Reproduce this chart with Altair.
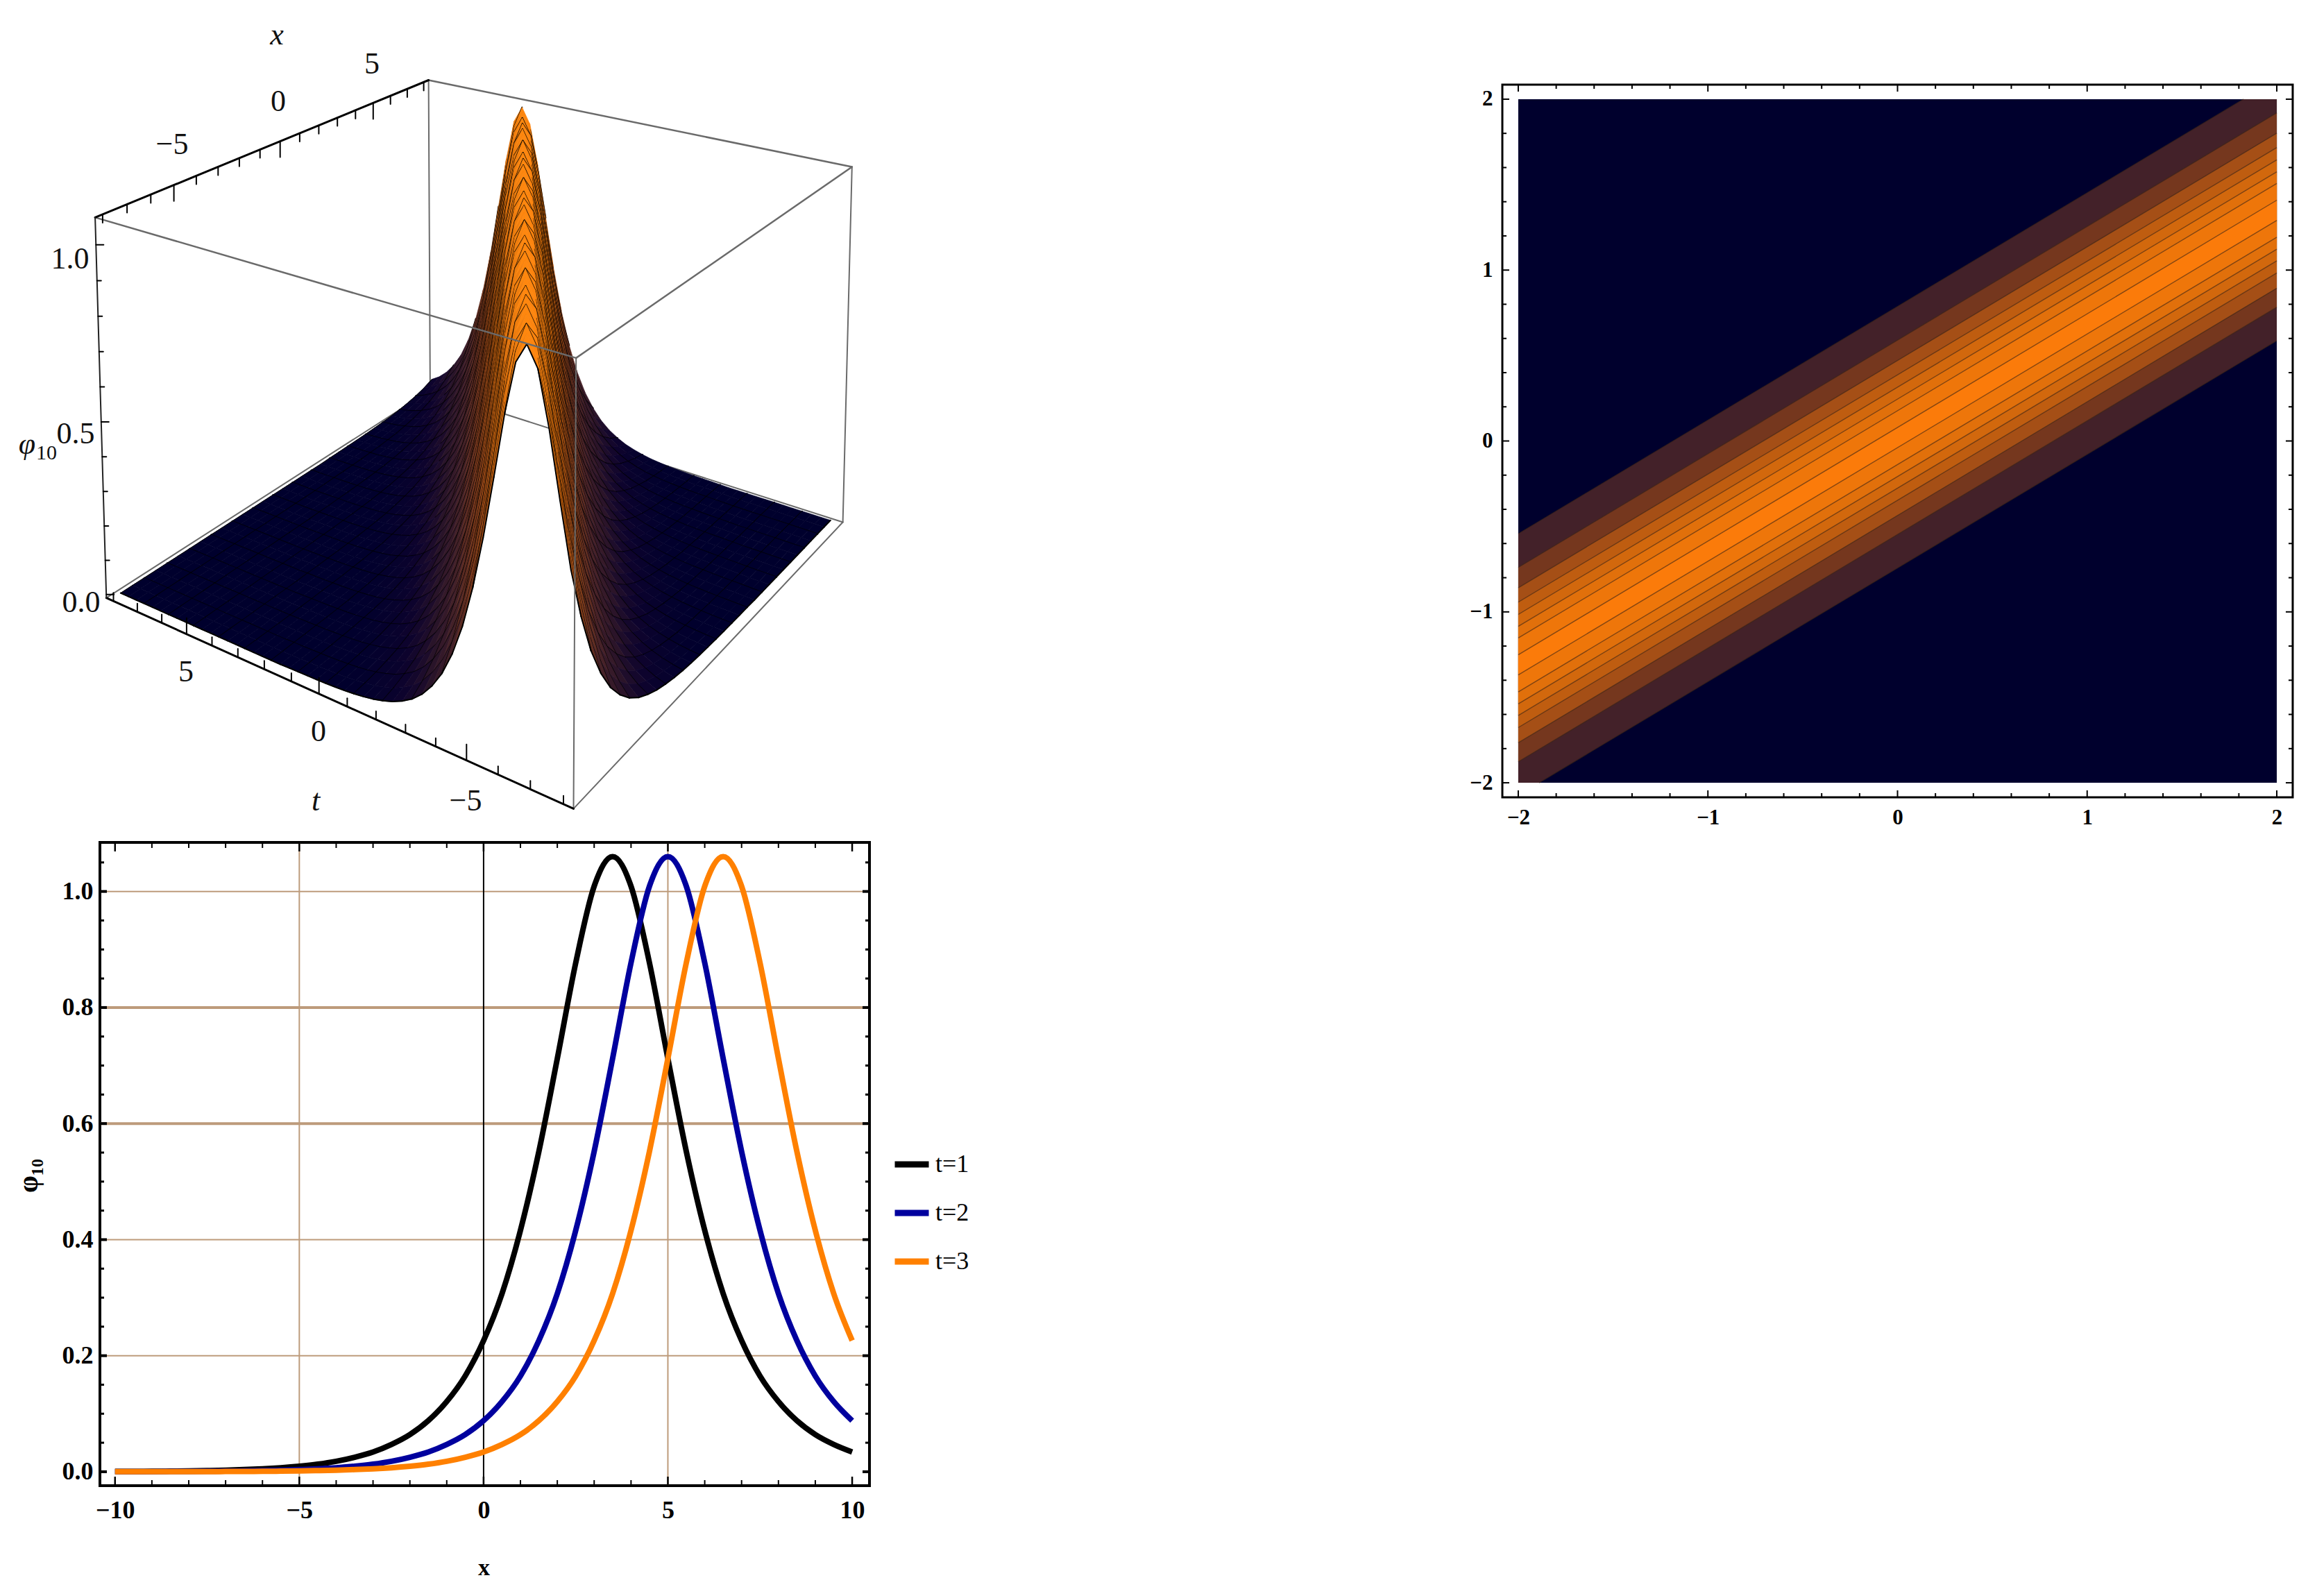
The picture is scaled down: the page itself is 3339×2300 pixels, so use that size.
import numpy as np
import pandas as pd
import altair as alt

SERIF = "Liberation Serif"

# ---------- curve values (x = -10 ... 10, step 0.5)
XS = [-10 + 0.5 * i for i in range(41)]
T1 = [.0004,.0005,.0008,.001,.0014,.002,.0027,.0037,.005,.0069,.0095,.013,.018,.025,.034,.047,.064,.088,.121,.165,.226,.307,.416,.552,.712,.877,1.009,1.06,1.009,.877,.712,.552,.416,.307,.226,.165,.121,.088,.064,.047,.034]
T2 = [.0002,.0003,.0003,.0004,.0005,.0008,.001,.0014,.002,.0027,.0037,.005,.0069,.0095,.013,.018,.025,.034,.047,.064,.088,.121,.165,.226,.307,.416,.552,.712,.877,1.009,1.06,1.009,.877,.712,.552,.416,.307,.226,.165,.121,.088]
T3 = [.0001,.0001,.0002,.0002,.0003,.0003,.0004,.0005,.0008,.001,.0014,.002,.0027,.0037,.005,.0069,.0095,.013,.018,.025,.034,.047,.064,.088,.121,.165,.226,.307,.416,.552,.712,.877,1.009,1.06,1.009,.877,.712,.552,.416,.307,.226]
SERIES = ["t=1", "t=2", "t=3"]
SERIES_COLORS = ["#000000", "#00009e", "#ff8000"]

# ridge cross-section, |u| = 0, 0.5, 1, ...
PROFILE = [1.06,1.009,.877,.712,.552,.416,.307,.226,.165,.121,.088,.064,.047,.034,.025,.018,.013,.0095,.0069,.005,.0037,.0027,.002,.0014,.001]

# ---------- contour band edges at x = -2 (the edges run up with the ridge)
UPPER = [-.543,-.740,-.859,-.943,-1.015,-1.085,-1.153,-1.251]
LOWER = [-2.073,-1.877,-1.766,-1.677,-1.606,-1.538,-1.468,-1.369]
RISE = 2.66
BAND_COLORS = ["#432129","#75371e","#a54f16","#bf5d10","#d2680d","#e1700b","#ee760a","#fb7b0a"]
NAVY = "#00002d"

# ---------- 3D box: page pixels of its corners
OX, OY = 143, 121
BOX = 8.3
ZLO, ZHI = -0.01, 1.076
CORNERS = {
    (-1, 1, 1): (137, 312), (1, 1, 1): (615, 115), (1, -1, 1): (1228, 240), (-1, -1, 1): (829, 514),
    (-1, 1, 0): (152, 862), (1, 1, 0): (620, 560), (1, -1, 0): (1213, 752), (-1, -1, 0): (825, 1164),
}
A, B = [], []
for (a, b, c), (u, v) in CORNERS.items():
    c = -1 if c == 0 else 1
    A.append([a, b, c, 1, 0, 0, 0, 0, -u * a, -u * b, -u * c]); B.append(u)
    A.append([0, 0, 0, 0, a, b, c, 1, -v * a, -v * b, -v * c]); B.append(v)
P = np.linalg.lstsq(np.array(A, float), np.array(B, float), rcond=None)[0]


def proj(x, t, z):
    a, b = x / BOX, t / BOX
    c = (z - ZLO) / (ZHI - ZLO) * 2 - 1
    w = P[8] * a + P[9] * b + P[10] * c + 1
    return [(P[0] * a + P[1] * b + P[2] * c + P[3]) / w - OX, (P[4] * a + P[5] * b + P[6] * c + P[7]) / w - OY]


def rnd(p):
    return [round(float(p[0]), 1), round(float(p[1]), 1)]


def feat(coords, fill, stroke, sw, poly=False):
    geom = {"type": "Polygon", "coordinates": [[rnd(c) for c in coords]]} if poly else {"type": "LineString", "coordinates": [rnd(c) for c in coords]}
    return {"type": "Feature", "geometry": geom, "properties": {"f": fill, "s": stroke, "w": sw}}


def edge(a, b, color, sw):
    return feat([proj(*a), proj(*b)], "none", color, sw)


RAMP_Z = [0, .05, .12, .22, .38, .55, .75, 1.06]
RAMP_R = [0, 14, 42, 67, 117, 165, 215, 255]
RAMP_G = [0, 4, 20, 33, 55, 79, 108, 136]
RAMP_B = [45, 45, 42, 41, 30, 22, 13, 16]


def col(z, light=1.0):
    r = np.interp(z, RAMP_Z, RAMP_R) * light
    g = np.interp(z, RAMP_Z, RAMP_G) * light
    b = np.interp(z, RAMP_Z, RAMP_B)
    return "#%02x%02x%02x" % (int(min(r, 255)), int(min(g, 255)), int(b))


def height(i, j):
    k = abs(i - j + 4)   # u / 0.5 on the lattice x = -8 + i/2, t = -8 + j/3
    return PROFILE[k] if k < len(PROFILE) else 0.0


GR = "#6a6a6a"
nx, nt = 33, 49
xv = [-8 + i / 2 for i in range(nx)]
tv = [-8 + j / 3 for j in range(nt)]
surface = []
for i in range(nx - 2, -1, -1):
    for j in range(nt - 2, -1, -1):
        pts = [(xv[i], tv[j], height(i, j)), (xv[i + 1], tv[j], height(i + 1, j)),
               (xv[i + 1], tv[j + 1], height(i + 1, j + 1)), (xv[i], tv[j + 1], height(i, j + 1))]
        zm = sum(p[2] for p in pts) / 4
        slope = (height(i + 1, j) - height(i, j))
        light = 1.0 - 0.5 * max(0, slope) + 0.2 * max(0, -slope)
        c = col(zm, light)
        surface.append(feat([proj(*p) for p in pts] + [proj(*pts[0])], c, c, 0.7, poly=True))
        steep = 0.12 < zm < 0.98
        if j % 3 == 0:
            surface.append(edge(pts[0], pts[1], "#000000", 2))
        if i % 2 == 0:
            surface.append(edge(pts[0], pts[3], "#000000", 2))
        elif steep:
            surface.append(edge(pts[0], pts[3], "#000000", 1.6))
        if j == nt - 2:
            surface.append(edge(pts[3], pts[2], "#000000", 1.0))


def box_pt(a, b, c):
    return (a * BOX, b * BOX, ZHI if c else ZLO)


back = [edge(box_pt(-1, 1, 0), box_pt(1, 1, 0), GR, 2), edge(box_pt(1, 1, 0), box_pt(1, -1, 0), GR, 2),
        edge(box_pt(1, 1, 0), box_pt(1, 1, 1), GR, 2), edge(box_pt(1, 1, 1), box_pt(1, -1, 1), GR, 2.5),
        edge(box_pt(1, -1, 1), box_pt(1, -1, 0), GR, 2)]
front = [edge(box_pt(-1, 1, 1), box_pt(-1, -1, 1), GR, 2.5), edge(box_pt(-1, -1, 1), box_pt(1, -1, 1), GR, 2.5),
         edge(box_pt(-1, -1, 1), box_pt(-1, -1, 0), GR, 2), edge(box_pt(-1, -1, 0), box_pt(1, -1, 0), GR, 2),
         edge(box_pt(-1, 1, 1), box_pt(1, 1, 1), "#000000", 3), edge(box_pt(-1, 1, 0), box_pt(-1, -1, 0), "#000000", 3),
         edge(box_pt(-1, 1, 1), box_pt(-1, 1, 0), "#222222", 2)]
for k in range(-8, 9):
    major = k % 5 == 0
    ln = 23 if major else 12
    p = proj(k, BOX, ZHI)
    front.append(feat([p, [p[0], p[1] + ln]], "none", "#000000", 2))
    p = proj(-BOX, k, ZLO)
    front.append(feat([p, [p[0], p[1] - ln]], "none", "#000000", 2))
for k in range(0, 11):
    z = k / 10
    p = proj(-BOX, BOX, z)
    front.append(feat([p, [p[0] + (11 if k % 5 == 0 else 6), p[1]]], "none", "#000000", 2))

LAB3D_S = ["\u22125", "0", "5", "5", "0", "\u22125", "1.0", "0.5", "0.0", "10"]
LAB3D_X = [247, 400, 535, 267, 458, 670, 100, 108, 116, 66]
LAB3D_Y = [208, 146, 92, 968, 1054, 1154, 373, 625, 868, 652]
LAB3D_F = [44, 44, 44, 44, 44, 44, 44, 44, 44, 30]
ITAL_S = ["x", "t", "\u03c6"]
ITAL_X = [398, 454, 38]
ITAL_Y = [50, 1154, 640]

IDENT = dict(type="identity", scale=1, translate=[0, 0])


def geo(features):
    return (alt.Chart(alt.Data(values=features)).mark_geoshape(strokeJoin="round", strokeCap="round", clip=False)
            .encode(fill=alt.Fill("properties.f:N", scale=None), stroke=alt.Stroke("properties.s:N", scale=None),
                    strokeWidth=alt.StrokeWidth("properties.w:Q", scale=None))
            .project(**IDENT))


lab3d = pd.DataFrame({"s": LAB3D_S, "lon": [v - OX for v in LAB3D_X], "lat": [v - OY for v in LAB3D_Y], "f": LAB3D_F})
ital3d = pd.DataFrame({"s": ITAL_S, "lon": [v - OX for v in ITAL_X], "lat": [v - OY for v in ITAL_Y]})
t3a = alt.Chart(lab3d).mark_text(font=SERIF, color="#111111", clip=False).encode(
    longitude="lon:Q", latitude="lat:Q", text="s:N", size=alt.Size("f:Q", scale=None)).project(**IDENT)
t3b = alt.Chart(ital3d).mark_text(font=SERIF, fontSize=44, fontStyle="italic", color="#111111", clip=False).encode(
    longitude="lon:Q", latitude="lat:Q", text="s:N").project(**IDENT)
panel3d = alt.layer(geo(back), geo(surface), geo(front), t3a, t3b).properties(width=1109, height=1027)


# ---------- helpers for inward frame ticks
def frame_ticks(values, channel, scale, axis, other_len, length, sw):
    df = pd.DataFrame({"v": values})
    out = []
    for start, end in ((0, length), (other_len, other_len - length)):
        if channel == "x":
            out.append(alt.Chart(df).mark_rule(color="black", strokeWidth=sw).encode(
                x=alt.X("v:Q", scale=scale, axis=axis), y=alt.value(start), y2=alt.value(end)))
        else:
            out.append(alt.Chart(df).mark_rule(color="black", strokeWidth=sw).encode(
                y=alt.Y("v:Q", scale=scale, axis=axis), x=alt.value(start), x2=alt.value(end)))
    return out


# ---------- contour panel
CW, CH = 1139, 1027
cx = alt.Scale(domain=[-2.084, 2.084], nice=False, zero=False)
cy = alt.Scale(domain=[-2.085, 2.085], nice=False, zero=False)
CAX = alt.Axis(values=[-2, -1, 0, 1, 2], format="d", title=None, grid=False, domain=False,
               ticks=False, tickSize=0, labelFont=SERIF, labelFontWeight="bold", labelFontSize=31,
               labelPadding=14, labelColor="black")
bg = alt.Chart(pd.DataFrame({"a": [-2], "b": [2], "c": [-2], "d": [2]})).mark_rect(color=NAVY).encode(
    x=alt.X("a:Q", scale=cx, axis=CAX), x2="b:Q", y=alt.Y("c:Q", scale=cy, axis=CAX), y2="d:Q")

band_layers, edge_rows = [], []
for k, (lo, hi) in enumerate(zip(LOWER, UPPER)):
    xb = {-2.0, 2.0}
    for a in (lo, hi):
        for lim in (-2.0, 2.0):
            xc = -2 + 4 * (lim - a) / RISE
            if -2 < xc < 2:
                xb.add(xc)
    rows = []
    for x in sorted(xb):
        yl = lo + RISE * (x + 2) / 4
        yh = hi + RISE * (x + 2) / 4
        rows.append({"bx": x, "blo": min(max(yl, -2), 2), "bhi": min(max(yh, -2), 2)})
    band_layers.append(alt.Chart(pd.DataFrame(rows)).mark_area(color=BAND_COLORS[k], orient="vertical").encode(
        x=alt.X("bx:Q", scale=cx, axis=CAX), y=alt.Y("blo:Q", scale=cy, axis=CAX), y2="bhi:Q"))
    for name, a in (("l", lo), ("h", hi)):
        xs = [x for x in sorted(xb) if -2.0001 <= a + RISE * (x + 2) / 4 <= 2.0001]
        for x in xs:
            edge_rows.append({"x": x, "y": a + RISE * (x + 2) / 4, "g": f"{name}{k}"})
edges = alt.Chart(pd.DataFrame(edge_rows)).mark_line(color="#3a2418", strokeWidth=1.4, opacity=0.6).encode(
    x=alt.X("x:Q", scale=cx, axis=CAX), y=alt.Y("y:Q", scale=cy, axis=CAX), detail="g:N")
C_MAJOR = [-2, -1, 0, 1, 2]
C_MINOR = [round(-2 + .2 * i, 1) for i in range(21) if i % 5 != 0]
c_layers = [bg] + band_layers + [edges]
c_layers += frame_ticks(C_MAJOR, "x", cx, CAX, CH, 10, 2) + frame_ticks(C_MINOR, "x", cx, CAX, CH, 6, 2)
c_layers += frame_ticks(C_MAJOR, "y", cy, CAX, CW, 10, 2) + frame_ticks(C_MINOR, "y", cy, CAX, CW, 6, 2)
contour = alt.layer(*c_layers).properties(width=CW, height=CH, view=alt.ViewBackground(stroke="black", strokeWidth=3))

# ---------- line panel
LW, LH = 1109, 927
lx = alt.Scale(domain=[-10.41, 10.47], nice=False, zero=False)
ly = alt.Scale(domain=[-0.024, 1.0845], nice=False, zero=False)
GRID_Y = [0.2, 0.4, 0.6, 0.8, 1.0]
GRID_W = [2, 2, 4, 4, 2]
TAN = "#bd9b7b"
LAY = alt.Axis(values=[0, .2, .4, .6, .8, 1], format=".1f", title="\u03c6\u2081\u2080", grid=False, domain=False,
               ticks=False, tickSize=0, labelFont=SERIF, labelFontWeight="bold", labelFontSize=36,
               labelPadding=10, labelColor="black", titleFont=SERIF, titleFontSize=40,
               titleFontWeight="bold", titleColor="black", titleX=-83, titleY=480, titleAngle=270)
LAX = alt.Axis(values=[-10, -5, 0, 5, 10], format="d", title="x", grid=False, domain=False,
               ticks=False, tickSize=0, labelFont=SERIF, labelFontWeight="bold", labelFontSize=36,
               labelPadding=18, labelColor="black", titleFont=SERIF, titleFontSize=34,
               titleFontWeight="bold", titleColor="black", titleX=553, titleY=101)
grid_h = alt.Chart(pd.DataFrame({"v": GRID_Y, "w": GRID_W})).mark_rule(color=TAN).encode(
    y=alt.Y("v:Q", scale=ly, axis=LAY), x=alt.value(0), x2=alt.value(LW), strokeWidth=alt.StrokeWidth("w:Q", scale=None))
grid_v = alt.Chart(pd.DataFrame({"v": [-5, 5]})).mark_rule(color=TAN, strokeWidth=2).encode(
    x=alt.X("v:Q", scale=lx, axis=LAX), y=alt.value(0), y2=alt.value(LH))
zero_v = alt.Chart(pd.DataFrame({"v": [0]})).mark_rule(color="black", strokeWidth=2).encode(
    x=alt.X("v:Q", scale=lx, axis=LAX), y=alt.value(0), y2=alt.value(LH))
long_rows = [{"x": x, "y": y, "s": s} for s, ys in zip(SERIES, (T1, T2, T3)) for x, y in zip(XS, ys)]
lines = alt.Chart(pd.DataFrame(long_rows)).mark_line(strokeWidth=8, interpolate="monotone", clip=True).encode(
    x=alt.X("x:Q", scale=lx, axis=LAX), y=alt.Y("y:Q", scale=ly, axis=LAY),
    color=alt.Color("s:N", scale=alt.Scale(domain=SERIES, range=SERIES_COLORS),
                    legend=alt.Legend(title=None, orient="none", legendX=1141, legendY=1527, symbolType="stroke",
                                      symbolSize=2401, symbolStrokeWidth=9, labelFont=SERIF, labelFontSize=36,
                                      labelColor="black", rowPadding=23, labelOffset=5, padding=0)))
L_XMAJ = [-10, -5, 0, 5, 10]
L_XMIN = [v for v in range(-10, 11) if v % 5 != 0]
L_YMAJ = [round(.2 * i, 1) for i in range(6)]
L_YMIN = [round(.05 * i, 2) for i in range(22) if i % 4 != 0]
l_layers = [grid_h, grid_v, zero_v]
l_layers += frame_ticks(L_XMAJ, "x", lx, LAX, LH, 13, 2.5) + frame_ticks(L_XMIN, "x", lx, LAX, LH, 8, 2)
l_layers += frame_ticks(L_YMAJ, "y", ly, LAY, LW, 10, 4) + frame_ticks(L_YMIN, "y", ly, LAY, LW, 6, 3)
l_layers += [lines]
linechart = alt.layer(*l_layers).properties(width=LW, height=LH, view=alt.ViewBackground(stroke="black", strokeWidth=4))

chart = alt.concat(panel3d, contour, linechart, columns=2, bounds="flush",
                   spacing=alt.RowColnumber(row=65, column=912)).properties(
    padding={"left": 11, "top": 21, "right": 20, "bottom": 5}, background="white"
).configure_view(stroke=None)

chart.save("out.html", embed_options={"renderer": "svg", "actions": False})
